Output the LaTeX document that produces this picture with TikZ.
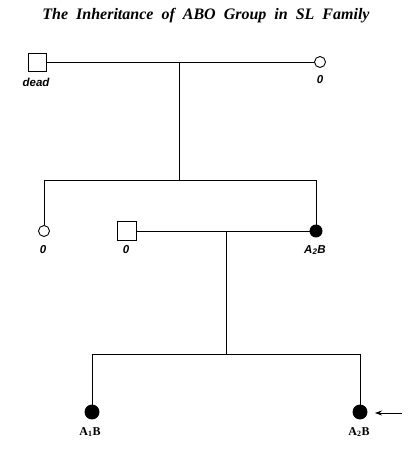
\documentclass[tikz,border=0pt]{standalone}
\usepackage{fontspec}
\setmainfont{Liberation Serif}
\newfontfamily\lsans{Liberation Sans}
\usetikzlibrary{arrows.meta}
\begin{document}
\begin{tikzpicture}[x=1pt,y=-1pt,
  line width=0.9pt,
  male/.style={draw,fill=white,minimum size=18pt,inner sep=0pt},
  fem/.style={draw,fill=white,circle,minimum size=11pt,inner sep=0pt},
  afem/.style={draw,fill=black,circle,minimum size=12pt,inner sep=0pt},
  bfem/.style={draw,fill=black,circle,minimum size=14pt,inner sep=0pt},
  lab/.style={font=\lsans\itshape\bfseries\fontsize{11.5}{12}\selectfont,inner sep=0pt},
  blab/.style={font=\bfseries\fontsize{12}{13}\selectfont,inner sep=0pt}]
\useasboundingbox (0,0) rectangle (412,449);
\node[font=\bfseries\itshape\fontsize{16}{18}\selectfont] (title) at (206,16) {The\ \ Inheritance\ \ of\ \ ABO\ \ Group\ \ in\ \ SL\ \ Family};
% generation I
\node[male] (sqA) at (37,62) {};
\node[fem] (cA) at (320,62) {};
\node[lab] (lA) at (36,82) {dead};
\node[lab] (lcA) at (320,80) {0};
\coordinate (m1) at (179,62);
\coordinate (b1) at (179,180);
\draw (sqA) -- (cA);
\draw (m1) -- (b1);
% generation II
\node[fem] (cB) at (44,231) {};
\node[male,minimum size=19pt] (sqB) at (127,231) {};
\node[afem] (cC) at (316,231) {};
\node[lab] (lcB) at (43,250) {0};
\node[lab] (lsqB) at (126,250) {0};
\node[lab] (lcC) at (315,250) {A\textsubscript{2}B};
\coordinate (g2l) at (44,180);
\coordinate (g2r) at (316,180);
\draw (cB) -- (g2l) -- (g2r) -- (cC);
\draw (sqB) -- (cC);
\coordinate (m2) at (226,231);
\coordinate (b2) at (226,354);
\draw (m2) -- (b2);
% generation III
\node[bfem] (cD) at (92,412) {};
\node[bfem] (cE) at (360,412) {};
\node[blab] (lcD) at (90,432) {A\textsubscript{1}B};
\node[blab] (lcE) at (359,432) {A\textsubscript{2}B};
\coordinate (g3l) at (92,354);
\coordinate (g3r) at (360,354);
\draw (cD) -- (g3l) -- (g3r) -- (cE);
\coordinate (arrS) at (402,413);
\coordinate (arrE) at (375,413);
\draw[-{Stealth[length=7pt,width=5pt]},line width=0.8pt] (arrS) -- (arrE);
\end{tikzpicture}
\end{document}
